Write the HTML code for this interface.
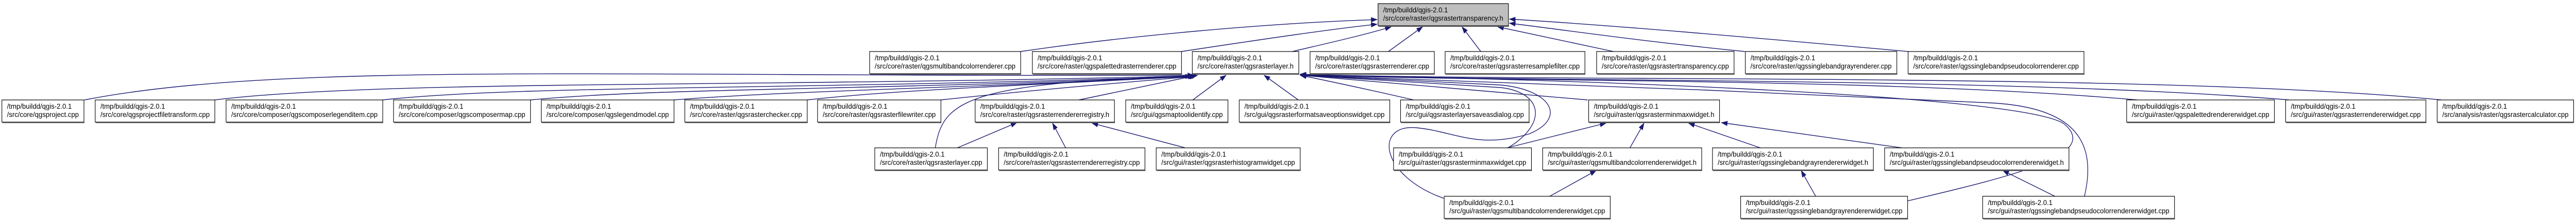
<!DOCTYPE html>
<html><head><meta charset="utf-8"><style>
html,body{margin:0;padding:0;background:#fff;overflow:hidden;width:100%;height:100%;}
svg{display:block;width:100vw;height:100vh;}
text{font-family:"Liberation Sans","DejaVu Sans",sans-serif;font-size:14px;fill:#000;}
.e{fill:none;stroke:#191970;stroke-width:1.4;}
.b{fill:#fff;stroke:#000;stroke-width:1.2;}
.s{stroke:#555;stroke-width:2;}
</style></head><body>
<svg viewBox="0 0 5492 429" preserveAspectRatio="none" xmlns="http://www.w3.org/2000/svg" overflow="hidden">
<defs>
<marker id="a" markerWidth="14" markerHeight="10" refX="13" refY="5" orient="auto" markerUnits="userSpaceOnUse">
<path d="M0,0 L14,5 L0,10 z" fill="#191970"/>
</marker>
</defs>
<g class="e" marker-end="url(#a)">
<path d="M2176,100 C2400,70 2700,45 2936,38"/>
<path d="M2519,100 C2700,75 2850,55 2936,47"/>
<path d="M2755,100 C2850,80 2920,65 2966,52"/>
<path d="M2960,100 L3033,52"/>
<path d="M3157,100 L3117,52"/>
<path d="M3440,100 L3193,52"/>
<path d="M3720,100 C3500,80 3350,60 3218,45"/>
<path d="M4068,100 C3700,70 3450,50 3218,37"/>
<path d="M180,194 C600,120 1300,150 2545,146"/>
<path d="M458,194 C800,155 1600,170 2545,147"/>
<path d="M816,194 C1100,165 1700,175 2545,148"/>
<path d="M1131,194 C1400,170 1900,175 2546,148"/>
<path d="M1437,194 C1700,175 2100,170 2547,148"/>
<path d="M1721,194 C1900,175 2200,165 2548,148"/>
<path d="M2006,194 C2200,175 2400,160 2550,148"/>
<path d="M2300,194 L2553,146"/>
<path d="M2543,194 L2614,146"/>
<path d="M2768,194 L2695,146"/>
<path d="M3014,194 C2900,170 2820,155 2772,146"/>
<path d="M3385,194 C3100,170 2900,155 2772,146"/>
<path d="M4557,194 C4000,150 3200,160 2772,145"/>
<path d="M4880,194 C4300,150 3300,160 2772,145"/>
<path d="M5205,194 C4600,140 3300,160 2772,144"/>
<path d="M1994,287 C2010,200 2050,160 2540,148"/>
<path d="M3215,287 C3300,240 3290,180 3200,170 C3000,160 2850,150 2772,146"/>
<path d="M3078,385 C2940,340 2930,240 3020,248 C3100,255 3150,290 3260,260 C3340,230 3310,175 3200,165 C3000,155 2850,150 2772,146"/>
<path d="M4067,390 C4300,340 4480,300 4400,240 C4300,180 3200,150 2772,146"/>
<path d="M4444,381 C4470,280 4430,210 4250,200 C3800,180 3000,150 2772,146"/>
<path d="M2041,287 L2168,238"/>
<path d="M2272,287 L2244,239"/>
<path d="M2527,287 L2328,239"/>
<path d="M3213,287 L3424,239"/>
<path d="M3475,287 L3505,239"/>
<path d="M3753,287 L3600,239"/>
<path d="M4055,287 L3670,238"/>
<path d="M3304,381 L3403,331"/>
<path d="M3871,381 L3840,331"/>
<path d="M4381,381 L4270,331"/>
</g>
<g>
<rect x="2938" y="7" width="278" height="43" fill="#bfbfbf" stroke="#000" stroke-width="1.2"/>
<line class="s" x1="2939" y1="51" x2="3217" y2="51"/>
<text x="2949" y="24" textLength="138" lengthAdjust="spacingAndGlyphs">/tmp/buildd/qgis-2.0.1</text>
<text x="2949" y="40" textLength="256" lengthAdjust="spacingAndGlyphs">/src/core/raster/qgsrastertransparency.h</text>
</g>
<g>
<rect class="b" x="1854" y="100" width="322" height="43"/><line class="s" x1="1855" y1="144" x2="2177" y2="144"/><text x="1865" y="117" textLength="138" lengthAdjust="spacingAndGlyphs">/tmp/buildd/qgis-2.0.1</text><text x="1865" y="133" textLength="300" lengthAdjust="spacingAndGlyphs">/src/core/raster/qgsmultibandcolorrenderer.cpp</text>
<rect class="b" x="2201" y="100" width="318" height="43"/><line class="s" x1="2202" y1="144" x2="2520" y2="144"/><text x="2212" y="117" textLength="138" lengthAdjust="spacingAndGlyphs">/tmp/buildd/qgis-2.0.1</text><text x="2212" y="133" textLength="296" lengthAdjust="spacingAndGlyphs">/src/core/raster/qgspalettedrasterrenderer.cpp</text>
<rect class="b" x="2542" y="100" width="227" height="43"/><line class="s" x1="2543" y1="144" x2="2770" y2="144"/><text x="2553" y="117" textLength="138" lengthAdjust="spacingAndGlyphs">/tmp/buildd/qgis-2.0.1</text><text x="2553" y="133" textLength="205" lengthAdjust="spacingAndGlyphs">/src/core/raster/qgsrasterlayer.h</text>
<rect class="b" x="2793" y="100" width="265" height="43"/><line class="s" x1="2794" y1="144" x2="3059" y2="144"/><text x="2804" y="117" textLength="138" lengthAdjust="spacingAndGlyphs">/tmp/buildd/qgis-2.0.1</text><text x="2804" y="133" textLength="243" lengthAdjust="spacingAndGlyphs">/src/core/raster/qgsrasterrenderer.cpp</text>
<rect class="b" x="3081" y="100" width="298" height="43"/><line class="s" x1="3082" y1="144" x2="3380" y2="144"/><text x="3092" y="117" textLength="138" lengthAdjust="spacingAndGlyphs">/tmp/buildd/qgis-2.0.1</text><text x="3092" y="133" textLength="276" lengthAdjust="spacingAndGlyphs">/src/core/raster/qgsrasterresamplefilter.cpp</text>
<rect class="b" x="3404" y="100" width="293" height="43"/><line class="s" x1="3405" y1="144" x2="3698" y2="144"/><text x="3415" y="117" textLength="138" lengthAdjust="spacingAndGlyphs">/tmp/buildd/qgis-2.0.1</text><text x="3415" y="133" textLength="271" lengthAdjust="spacingAndGlyphs">/src/core/raster/qgsrastertransparency.cpp</text>
<rect class="b" x="3721" y="100" width="323" height="43"/><line class="s" x1="3722" y1="144" x2="4045" y2="144"/><text x="3732" y="117" textLength="138" lengthAdjust="spacingAndGlyphs">/tmp/buildd/qgis-2.0.1</text><text x="3732" y="133" textLength="301" lengthAdjust="spacingAndGlyphs">/src/core/raster/qgssinglebandgrayrenderer.cpp</text>
<rect class="b" x="4068" y="100" width="375" height="43"/><line class="s" x1="4069" y1="144" x2="4444" y2="144"/><text x="4079" y="117" textLength="138" lengthAdjust="spacingAndGlyphs">/tmp/buildd/qgis-2.0.1</text><text x="4079" y="133" textLength="353" lengthAdjust="spacingAndGlyphs">/src/core/raster/qgssinglebandpseudocolorrenderer.cpp</text>
<rect class="b" x="4" y="194" width="175" height="43"/><line class="s" x1="5" y1="238" x2="180" y2="238"/><text x="15" y="211" textLength="138" lengthAdjust="spacingAndGlyphs">/tmp/buildd/qgis-2.0.1</text><text x="15" y="227" textLength="153" lengthAdjust="spacingAndGlyphs">/src/core/qgsproject.cpp</text>
<rect class="b" x="203" y="194" width="255" height="43"/><line class="s" x1="204" y1="238" x2="459" y2="238"/><text x="214" y="211" textLength="138" lengthAdjust="spacingAndGlyphs">/tmp/buildd/qgis-2.0.1</text><text x="214" y="227" textLength="233" lengthAdjust="spacingAndGlyphs">/src/core/qgsprojectfiletransform.cpp</text>
<rect class="b" x="482" y="194" width="334" height="43"/><line class="s" x1="483" y1="238" x2="817" y2="238"/><text x="493" y="211" textLength="138" lengthAdjust="spacingAndGlyphs">/tmp/buildd/qgis-2.0.1</text><text x="493" y="227" textLength="312" lengthAdjust="spacingAndGlyphs">/src/core/composer/qgscomposerlegenditem.cpp</text>
<rect class="b" x="839" y="194" width="292" height="43"/><line class="s" x1="840" y1="238" x2="1132" y2="238"/><text x="850" y="211" textLength="138" lengthAdjust="spacingAndGlyphs">/tmp/buildd/qgis-2.0.1</text><text x="850" y="227" textLength="270" lengthAdjust="spacingAndGlyphs">/src/core/composer/qgscomposermap.cpp</text>
<rect class="b" x="1154" y="194" width="283" height="43"/><line class="s" x1="1155" y1="238" x2="1438" y2="238"/><text x="1165" y="211" textLength="138" lengthAdjust="spacingAndGlyphs">/tmp/buildd/qgis-2.0.1</text><text x="1165" y="227" textLength="261" lengthAdjust="spacingAndGlyphs">/src/core/composer/qgslegendmodel.cpp</text>
<rect class="b" x="1460" y="194" width="261" height="43"/><line class="s" x1="1461" y1="238" x2="1722" y2="238"/><text x="1471" y="211" textLength="138" lengthAdjust="spacingAndGlyphs">/tmp/buildd/qgis-2.0.1</text><text x="1471" y="227" textLength="239" lengthAdjust="spacingAndGlyphs">/src/core/raster/qgsrasterchecker.cpp</text>
<rect class="b" x="1743" y="194" width="263" height="43"/><line class="s" x1="1744" y1="238" x2="2007" y2="238"/><text x="1754" y="211" textLength="138" lengthAdjust="spacingAndGlyphs">/tmp/buildd/qgis-2.0.1</text><text x="1754" y="227" textLength="241" lengthAdjust="spacingAndGlyphs">/src/core/raster/qgsrasterfilewriter.cpp</text>
<rect class="b" x="2079" y="194" width="297" height="43"/><line class="s" x1="2080" y1="238" x2="2377" y2="238"/><text x="2090" y="211" textLength="138" lengthAdjust="spacingAndGlyphs">/tmp/buildd/qgis-2.0.1</text><text x="2090" y="227" textLength="275" lengthAdjust="spacingAndGlyphs">/src/core/raster/qgsrasterrendererregistry.h</text>
<rect class="b" x="2400" y="194" width="218" height="43"/><line class="s" x1="2401" y1="238" x2="2619" y2="238"/><text x="2411" y="211" textLength="138" lengthAdjust="spacingAndGlyphs">/tmp/buildd/qgis-2.0.1</text><text x="2411" y="227" textLength="196" lengthAdjust="spacingAndGlyphs">/src/gui/qgsmaptoolidentify.cpp</text>
<rect class="b" x="2642" y="194" width="321" height="43"/><line class="s" x1="2643" y1="238" x2="2964" y2="238"/><text x="2653" y="211" textLength="138" lengthAdjust="spacingAndGlyphs">/tmp/buildd/qgis-2.0.1</text><text x="2653" y="227" textLength="299" lengthAdjust="spacingAndGlyphs">/src/gui/qgsrasterformatsaveoptionswidget.cpp</text>
<rect class="b" x="2986" y="194" width="274" height="43"/><line class="s" x1="2987" y1="238" x2="3261" y2="238"/><text x="2997" y="211" textLength="138" lengthAdjust="spacingAndGlyphs">/tmp/buildd/qgis-2.0.1</text><text x="2997" y="227" textLength="252" lengthAdjust="spacingAndGlyphs">/src/gui/qgsrasterlayersaveasdialog.cpp</text>
<rect class="b" x="3387" y="194" width="279" height="43"/><line class="s" x1="3388" y1="238" x2="3667" y2="238"/><text x="3398" y="211" textLength="138" lengthAdjust="spacingAndGlyphs">/tmp/buildd/qgis-2.0.1</text><text x="3398" y="227" textLength="257" lengthAdjust="spacingAndGlyphs">/src/gui/raster/qgsrasterminmaxwidget.h</text>
<rect class="b" x="4534" y="194" width="315" height="43"/><line class="s" x1="4535" y1="238" x2="4850" y2="238"/><text x="4545" y="211" textLength="138" lengthAdjust="spacingAndGlyphs">/tmp/buildd/qgis-2.0.1</text><text x="4545" y="227" textLength="293" lengthAdjust="spacingAndGlyphs">/src/gui/raster/qgspalettedrendererwidget.cpp</text>
<rect class="b" x="4873" y="194" width="299" height="43"/><line class="s" x1="4874" y1="238" x2="5173" y2="238"/><text x="4884" y="211" textLength="138" lengthAdjust="spacingAndGlyphs">/tmp/buildd/qgis-2.0.1</text><text x="4884" y="227" textLength="277" lengthAdjust="spacingAndGlyphs">/src/gui/raster/qgsrasterrendererwidget.cpp</text>
<rect class="b" x="5196" y="194" width="291" height="43"/><line class="s" x1="5197" y1="238" x2="5487" y2="238"/><text x="5207" y="211" textLength="138" lengthAdjust="spacingAndGlyphs">/tmp/buildd/qgis-2.0.1</text><text x="5207" y="227" textLength="269" lengthAdjust="spacingAndGlyphs">/src/analysis/raster/qgsrastercalculator.cpp</text>
<rect class="b" x="1865" y="287" width="240" height="43"/><line class="s" x1="1866" y1="331" x2="2106" y2="331"/><text x="1876" y="304" textLength="138" lengthAdjust="spacingAndGlyphs">/tmp/buildd/qgis-2.0.1</text><text x="1876" y="320" textLength="218" lengthAdjust="spacingAndGlyphs">/src/core/raster/qgsrasterlayer.cpp</text>
<rect class="b" x="2129" y="287" width="312" height="43"/><line class="s" x1="2130" y1="331" x2="2442" y2="331"/><text x="2140" y="304" textLength="138" lengthAdjust="spacingAndGlyphs">/tmp/buildd/qgis-2.0.1</text><text x="2140" y="320" textLength="290" lengthAdjust="spacingAndGlyphs">/src/core/raster/qgsrasterrendererregistry.cpp</text>
<rect class="b" x="2465" y="287" width="307" height="43"/><line class="s" x1="2466" y1="331" x2="2773" y2="331"/><text x="2476" y="304" textLength="138" lengthAdjust="spacingAndGlyphs">/tmp/buildd/qgis-2.0.1</text><text x="2476" y="320" textLength="285" lengthAdjust="spacingAndGlyphs">/src/gui/raster/qgsrasterhistogramwidget.cpp</text>
<rect class="b" x="2971" y="287" width="294" height="43"/><line class="s" x1="2972" y1="331" x2="3266" y2="331"/><text x="2982" y="304" textLength="138" lengthAdjust="spacingAndGlyphs">/tmp/buildd/qgis-2.0.1</text><text x="2982" y="320" textLength="272" lengthAdjust="spacingAndGlyphs">/src/gui/raster/qgsrasterminmaxwidget.cpp</text>
<rect class="b" x="3289" y="287" width="339" height="43"/><line class="s" x1="3290" y1="331" x2="3629" y2="331"/><text x="3300" y="304" textLength="138" lengthAdjust="spacingAndGlyphs">/tmp/buildd/qgis-2.0.1</text><text x="3300" y="320" textLength="317" lengthAdjust="spacingAndGlyphs">/src/gui/raster/qgsmultibandcolorrendererwidget.h</text>
<rect class="b" x="3651" y="287" width="343" height="43"/><line class="s" x1="3652" y1="331" x2="3995" y2="331"/><text x="3662" y="304" textLength="138" lengthAdjust="spacingAndGlyphs">/tmp/buildd/qgis-2.0.1</text><text x="3662" y="320" textLength="321" lengthAdjust="spacingAndGlyphs">/src/gui/raster/qgssinglebandgrayrendererwidget.h</text>
<rect class="b" x="4018" y="287" width="393" height="43"/><line class="s" x1="4019" y1="331" x2="4412" y2="331"/><text x="4029" y="304" textLength="138" lengthAdjust="spacingAndGlyphs">/tmp/buildd/qgis-2.0.1</text><text x="4029" y="320" textLength="371" lengthAdjust="spacingAndGlyphs">/src/gui/raster/qgssinglebandpseudocolorrendererwidget.h</text>
<rect class="b" x="3079" y="381" width="354" height="43"/><line class="s" x1="3080" y1="425" x2="3434" y2="425"/><text x="3090" y="398" textLength="138" lengthAdjust="spacingAndGlyphs">/tmp/buildd/qgis-2.0.1</text><text x="3090" y="414" textLength="332" lengthAdjust="spacingAndGlyphs">/src/gui/raster/qgsmultibandcolorrendererwidget.cpp</text>
<rect class="b" x="3711" y="381" width="356" height="43"/><line class="s" x1="3712" y1="425" x2="4068" y2="425"/><text x="3722" y="398" textLength="138" lengthAdjust="spacingAndGlyphs">/tmp/buildd/qgis-2.0.1</text><text x="3722" y="414" textLength="334" lengthAdjust="spacingAndGlyphs">/src/gui/raster/qgssinglebandgrayrendererwidget.cpp</text>
<rect class="b" x="4227" y="381" width="409" height="43"/><line class="s" x1="4228" y1="425" x2="4637" y2="425"/><text x="4238" y="398" textLength="138" lengthAdjust="spacingAndGlyphs">/tmp/buildd/qgis-2.0.1</text><text x="4238" y="414" textLength="387" lengthAdjust="spacingAndGlyphs">/src/gui/raster/qgssinglebandpseudocolorrendererwidget.cpp</text>
</g>
</svg>
</body></html>
